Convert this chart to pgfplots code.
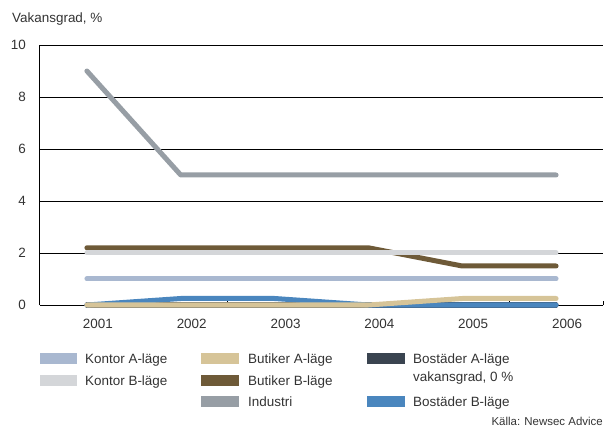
\documentclass[border=0pt]{standalone}
\usepackage{pgfplots}
\pgfplotsset{compat=1.18}
\usepackage{fontspec}
\setmainfont{Liberation Sans}
\definecolor{kontorA}{HTML}{A9B8D0}
\definecolor{kontorB}{HTML}{D4D6D9}
\definecolor{butikA}{HTML}{D6C498}
\definecolor{butikB}{HTML}{6E5A38}
\definecolor{industri}{HTML}{979EA5}
\definecolor{bostA}{HTML}{3A4450}
\definecolor{bostB}{HTML}{4A86BE}
\definecolor{txt}{HTML}{333333}
\begin{document}
\begin{tikzpicture}
\path[use as bounding box] (-40bp,-123bp) rectangle (565bp,305bp);
\begin{axis}[
  scale only axis,
  width=563bp, height=260bp,
  xmin=2000.5, xmax=2006.5,
  ymin=0, ymax=10,
  clip=false,
  axis x line=bottom, axis y line=left,
  axis line style={black, line width=1bp, -},
  xtick={2001,...,2006},
  xticklabels={2001,2002,2003,2004,2005,2006},
  minor xtick={2001.5,2002.5,2003.5,2004.5,2005.5,2006.5},
  major tick length=0pt,
  minor tick length=4bp,
  tick align=inside,
  minor tick style={black, line width=0.8bp},
  ytick={0,2,...,10},
  ymajorgrids,
  grid style={black, line width=0.9bp},
  tick label style={font=\fontsize{13.5}{16}\selectfont, text=txt, inner sep=0pt},
  xticklabel style={anchor=north, yshift=-14bp, xshift=11bp},
  yticklabel style={anchor=east, xshift=-14bp},
  /pgf/number format/assume math mode=true,
  every axis plot/.append style={line width=5bp, line cap=round, line join=round},
]
\addplot[color=bostA] coordinates {(2001,0) (2002,0) (2003,0) (2004,0) (2005,0) (2006,0)};
\addplot[color=bostB] coordinates {(2001,0) (2002,0.25) (2003,0.25) (2004,0) (2005,0) (2006,0)};
\addplot[color=butikA] coordinates {(2001,0) (2002,0) (2003,0) (2004,0) (2005,0.25) (2006,0.25)};
\addplot[color=kontorA] coordinates {(2001,1) (2002,1) (2003,1) (2004,1) (2005,1) (2006,1)};
\addplot[color=butikB] coordinates {(2001,2.2) (2002,2.2) (2003,2.2) (2004,2.2) (2005,1.5) (2006,1.5)};
\addplot[color=kontorB] coordinates {(2001,2) (2002,2) (2003,2) (2004,2) (2005,2) (2006,2)};
\addplot[color=industri] coordinates {(2001,9) (2002,5) (2003,5) (2004,5) (2005,5) (2006,5)};
\end{axis}
\begin{scope}[every node/.style={inner sep=0pt, anchor=base west, text=txt, font=\fontsize{13.5}{16}\selectfont}]
\node at (-28bp,282bp) {Vakansgrad, \%};
% legend
\fill[kontorA] (0bp,-58.5bp) rectangle (37bp,-47.5bp);
\node at (45bp,-58bp) {Kontor A-läge};
\fill[kontorB] (0bp,-80.5bp) rectangle (37bp,-69.5bp);
\node at (45bp,-80bp) {Kontor B-läge};
\fill[butikA] (161bp,-58.5bp) rectangle (199bp,-47.5bp);
\node at (208bp,-58bp) {Butiker A-läge};
\fill[butikB] (161bp,-80.5bp) rectangle (199bp,-69.5bp);
\node at (208bp,-80bp) {Butiker B-läge};
\fill[industri] (161bp,-101.5bp) rectangle (199bp,-90.5bp);
\node at (208bp,-101bp) {Industri};
\fill[bostA] (327bp,-58.5bp) rectangle (365bp,-47.5bp);
\node at (373bp,-58bp) {Bostäder A-läge};
\node at (373bp,-76.5bp) {vakansgrad, 0 \%};
\fill[bostB] (327bp,-101.5bp) rectangle (365bp,-90.5bp);
\node at (373bp,-101bp) {Bostäder B-läge};
\node[anchor=base east, font=\fontsize{11.5}{14}\selectfont] at (563bp,-120bp) {Källa: Newsec Advice};
\end{scope}
\end{tikzpicture}
\end{document}
